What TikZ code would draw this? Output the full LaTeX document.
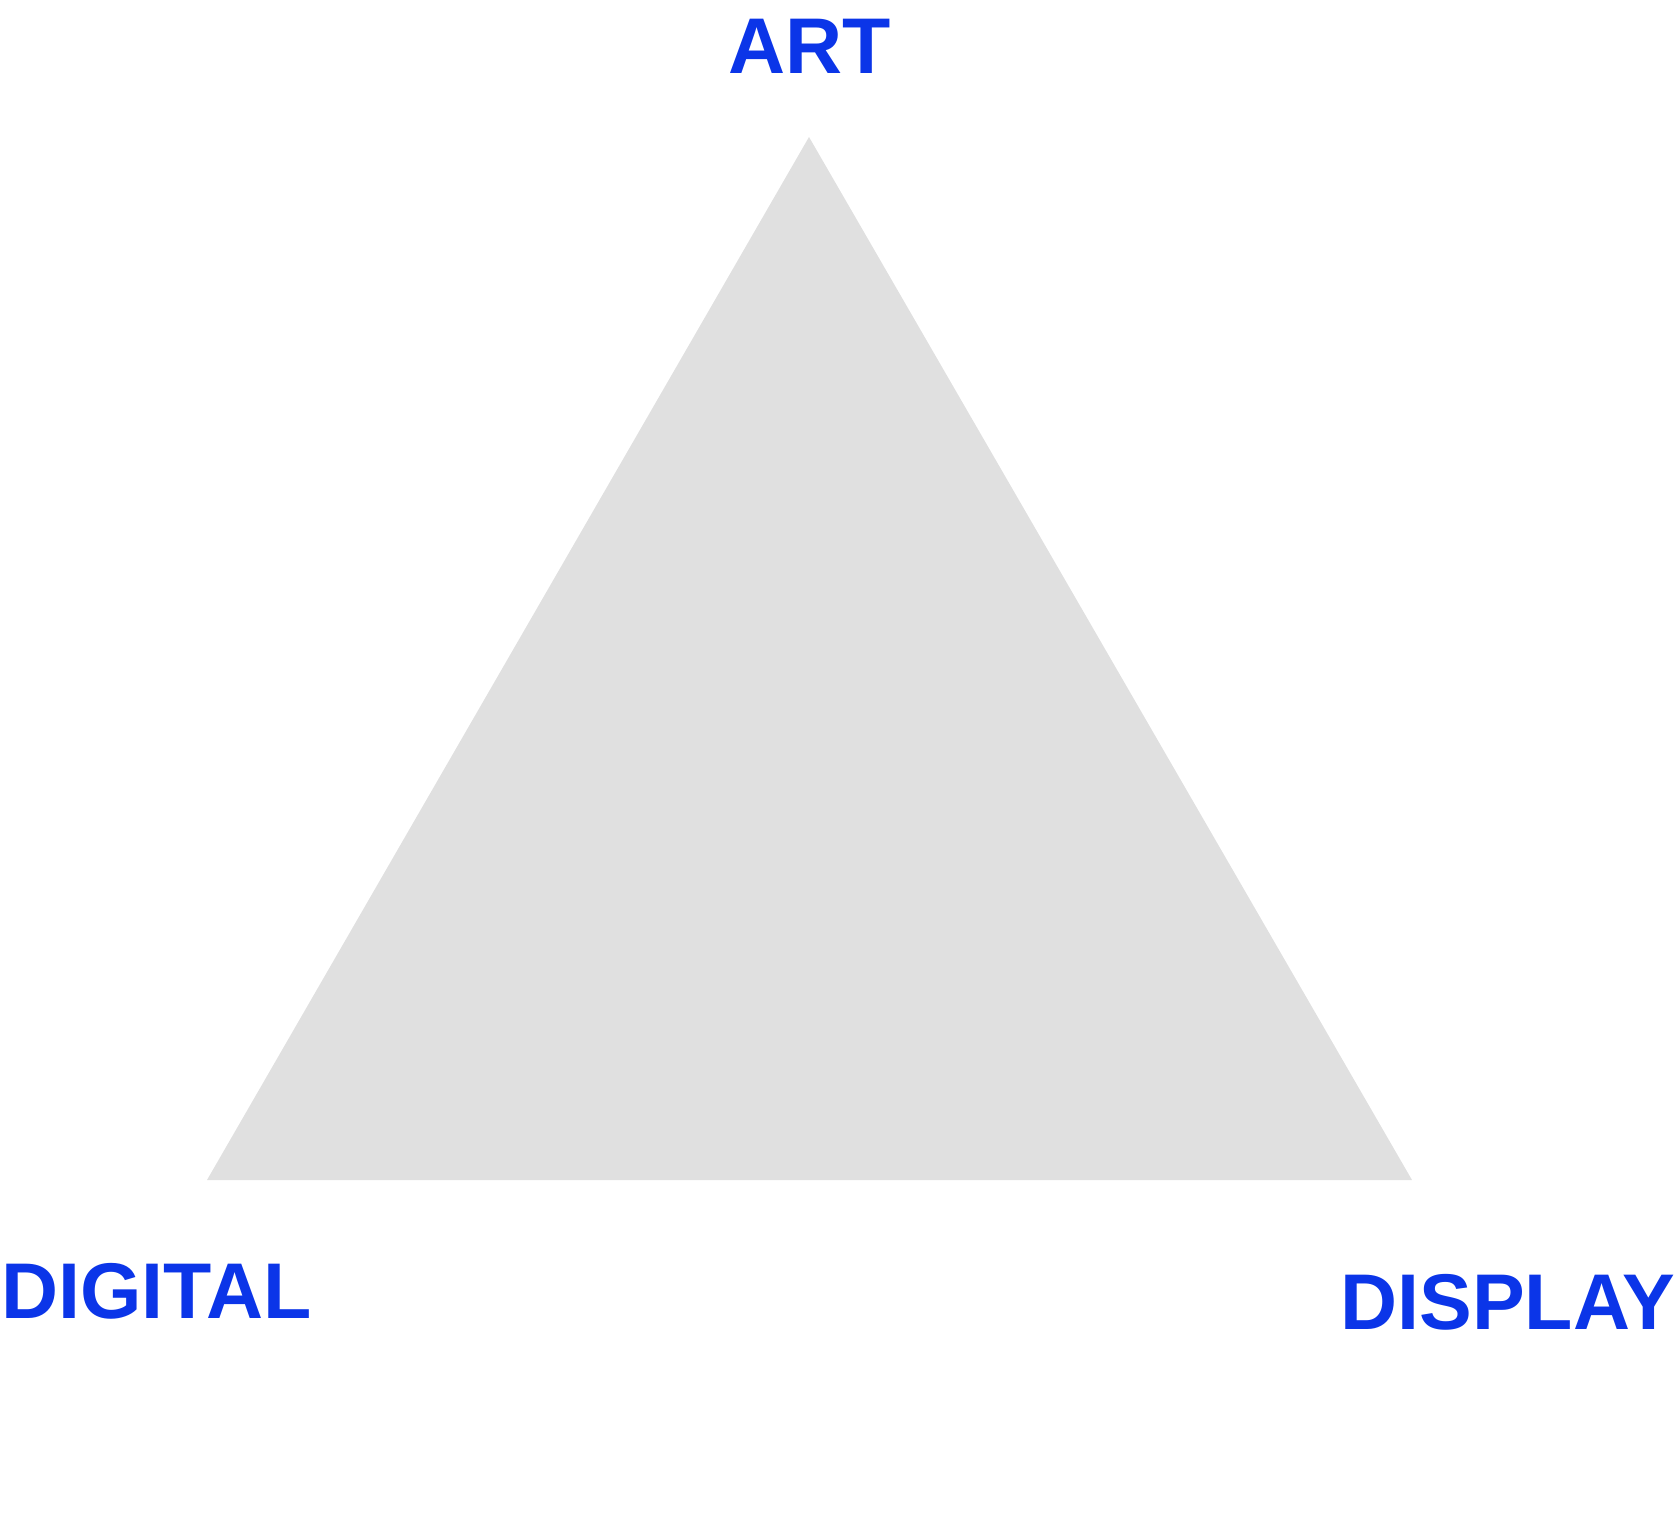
\documentclass[tikz,border=0pt]{standalone}
\usepackage{fontspec}
\setmainfont{Liberation Sans}
\usepackage{tikz}
\usetikzlibrary{positioning, calc}

\definecolor{labelblue}{HTML}{0B35E8}
\definecolor{trigray}{HTML}{E0E0E0}

\begin{document}
\begin{tikzpicture}[x=0.5pt, y=-0.5pt,
    corner/.style={font=\fontsize{39.5}{48}\selectfont\bfseries, text=labelblue, inner sep=0pt}]
  \useasboundingbox (0,0) rectangle (1676,1529);

  % Corners
  \coordinate (apex) at (809,137);
  \coordinate (left) at (207,1180);
  \coordinate (right) at (1412,1180);

  % Triangle
  \fill[trigray] (apex) -- (left) -- (right) -- cycle;

  % Labels
  \node[corner, anchor=base] (art) at (810,74) {ART};
  \node[corner, anchor=base west] (digital) at (1,1318) {DIGITAL};
  \node[corner, anchor=base east] (display) at (1676,1329) {DISPLAY};
\end{tikzpicture}
\end{document}
